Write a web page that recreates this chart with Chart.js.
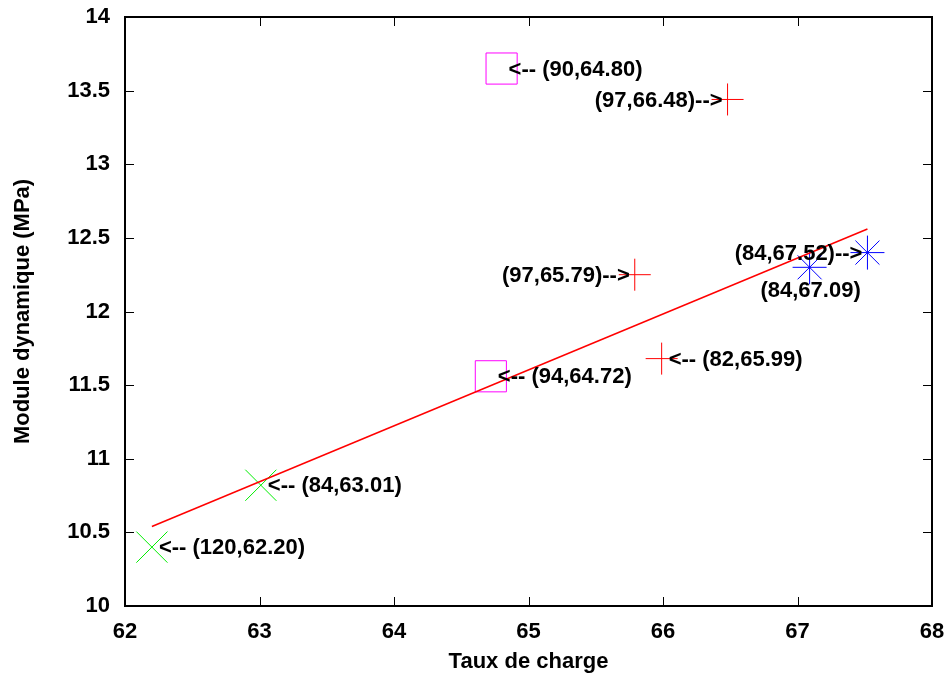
<!DOCTYPE html>
<html>
<head>
<meta charset="utf-8">
<script src="https://cdn.jsdelivr.net/npm/chart.js@4"></script>
<style>
  html, body { margin: 0; padding: 0; background: #fff; }
  #wrap { width: 946px; height: 677px; }
</style>
</head>
<body>
<div id="wrap"><canvas id="chart"></canvas></div>
<script>
// data
var greenX = [62.20, 63.01];
var greenY = [10.40, 10.82];
var greenLabels = ['<-- (120,62.20)', '<-- (84,63.01)'];

var magentaX = [64.80, 64.72];
var magentaY = [13.65, 11.56];
var magentaLabels = ['<-- (90,64.80)', '<-- (94,64.72)'];

var redX = [66.48, 65.79, 65.99];
var redY = [13.44, 12.25, 11.68];
var redLabels = ['(97,66.48)-->', '(97,65.79)-->', '<-- (82,65.99)'];

var blueX = [67.09, 67.52];
var blueY = [12.30, 12.40];
var blueLabels = ['(84,67.09)', '(84,67.52)-->'];

var fitX = [62.2, 67.52];
var fitY = [10.54, 12.56];

var xTicks = [62, 63, 64, 65, 66, 67, 68];
var yTicks = [10, 10.5, 11, 11.5, 12, 12.5, 13, 13.5, 14];

function toPoints(xs, ys) {
  var pts = [];
  for (var i in xs) {
    pts.push({x: xs[i], y: ys[i]});
  }
  return pts;
}

Chart.defaults.font.family = '"Liberation Sans", Arial, sans-serif';
Chart.defaults.font.weight = 'bold';
Chart.defaults.font.size = 22;
Chart.defaults.color = '#000';

// where each label sits relative to its point: 'right' = text after the point,
// 'left' = text before it, 'below' = centred under it
var pointLabels = {
  id: 'pointLabels',
  afterDatasetsDraw: function(chart) {
    var ctx = chart.ctx;
    ctx.save();
    ctx.font = 'bold 22px "Liberation Sans", Arial, sans-serif';
    ctx.fillStyle = '#000';
    ctx.textBaseline = 'middle';
    chart.data.datasets.forEach(function(ds, di) {
      if (!ds.labels) return;
      var meta = chart.getDatasetMeta(di);
      meta.data.forEach(function(el, i) {
        var pos = ds.labelPos[i];
        if (pos === 'right') {
          ctx.textAlign = 'left';
          ctx.fillText(ds.labels[i], el.x + 7, el.y + 1);
        } else if (pos === 'left') {
          ctx.textAlign = 'right';
          ctx.fillText(ds.labels[i], el.x - 5, el.y + 1);
        } else {
          ctx.textAlign = 'center';
          ctx.fillText(ds.labels[i], el.x + 1, el.y + 24);
        }
      });
    });
    ctx.restore();
  }
};

// gnuplot-like frame with inward ticks on all four sides
var frame = {
  id: 'frame',
  afterDraw: function(chart) {
    var ctx = chart.ctx;
    var a = chart.chartArea;
    var xs = chart.scales.x, ys = chart.scales.y;
    var len = 9;
    ctx.save();
    ctx.strokeStyle = '#000';
    ctx.lineWidth = 1;
    ctx.beginPath();
    xTicks.forEach(function(v) {
      var px = Math.round(xs.getPixelForValue(v)) + 0.5;
      ctx.moveTo(px, a.bottom); ctx.lineTo(px, a.bottom - len);
      ctx.moveTo(px, a.top); ctx.lineTo(px, a.top + len);
    });
    yTicks.forEach(function(v) {
      var py = Math.round(ys.getPixelForValue(v)) + 0.5;
      ctx.moveTo(a.left, py); ctx.lineTo(a.left + len, py);
      ctx.moveTo(a.right, py); ctx.lineTo(a.right - len, py);
    });
    ctx.stroke();
    ctx.lineWidth = 2;
    ctx.strokeRect(a.left, a.top, a.right - a.left, a.bottom - a.top);
    ctx.restore();
  }
};

new Chart(document.getElementById('chart'), {
  type: 'scatter',
  data: {
    datasets: [
      {
        label: 'fit',
        data: toPoints(fitX, fitY),
        showLine: true,
        borderColor: '#ff0000',
        borderWidth: 1.5,
        pointRadius: 0
      },
      {
        label: 'green',
        data: toPoints(greenX, greenY),
        labels: greenLabels,
        labelPos: ['right', 'right'],
        pointStyle: 'crossRot',
        pointRadius: 22,
        borderColor: '#00ee00',
        borderWidth: 1
      },
      {
        label: 'magenta',
        data: toPoints(magentaX, magentaY),
        labels: magentaLabels,
        labelPos: ['right', 'right'],
        pointStyle: 'rect',
        pointRadius: 22,
        backgroundColor: 'rgba(0,0,0,0)',
        borderColor: '#ff00ff',
        borderWidth: 1
      },
      {
        label: 'red',
        data: toPoints(redX, redY),
        labels: redLabels,
        labelPos: ['left', 'left', 'right'],
        pointStyle: 'cross',
        pointRadius: 16,
        borderColor: '#ff0000',
        borderWidth: 1
      },
      {
        label: 'blue',
        data: toPoints(blueX, blueY),
        labels: blueLabels,
        labelPos: ['below', 'left'],
        pointStyle: 'star',
        pointRadius: 17,
        borderColor: '#0000ff',
        borderWidth: 1
      }
    ]
  },
  options: {
    responsive: true,
    maintainAspectRatio: false,
    animation: false,
    layout: {
      autoPadding: false,
      padding: { left: 0, right: 14, top: 17, bottom: 0 }
    },
    scales: {
      x: {
        type: 'linear',
        min: 62,
        max: 68,
        afterFit: function(scale) {
          scale.height = 71;
          scale.paddingLeft = 0;
          scale.paddingRight = 0;
        },
        afterBuildTicks: function(scale) {
          scale.ticks = xTicks.map(function(v) { return {value: v}; });
        },
        grid: { display: false, drawTicks: false },
        border: { display: false },
        ticks: {
          padding: 13,
          maxRotation: 0,
          callback: function(value) { return String(value); }
        },
        title: {
          display: true,
          text: 'Taux de charge',
          padding: { top: 0, bottom: 2 }
        }
      },
      y: {
        type: 'linear',
        min: 10,
        max: 14,
        afterFit: function(scale) {
          scale.width = 125;
          scale.paddingTop = 0;
          scale.paddingBottom = 0;
        },
        afterBuildTicks: function(scale) {
          scale.ticks = yTicks.map(function(v) { return {value: v}; });
        },
        grid: { display: false, drawTicks: false },
        border: { display: false },
        ticks: {
          padding: 15,
          callback: function(value) { return String(value); }
        },
        title: {
          display: true,
          text: 'Module dynamique (MPa)',
          padding: { top: 10, bottom: 0 }
        }
      }
    },
    plugins: {
      legend: { display: false },
      tooltip: { enabled: false }
    }
  },
  plugins: [pointLabels, frame]
});
</script>
</body>
</html>
